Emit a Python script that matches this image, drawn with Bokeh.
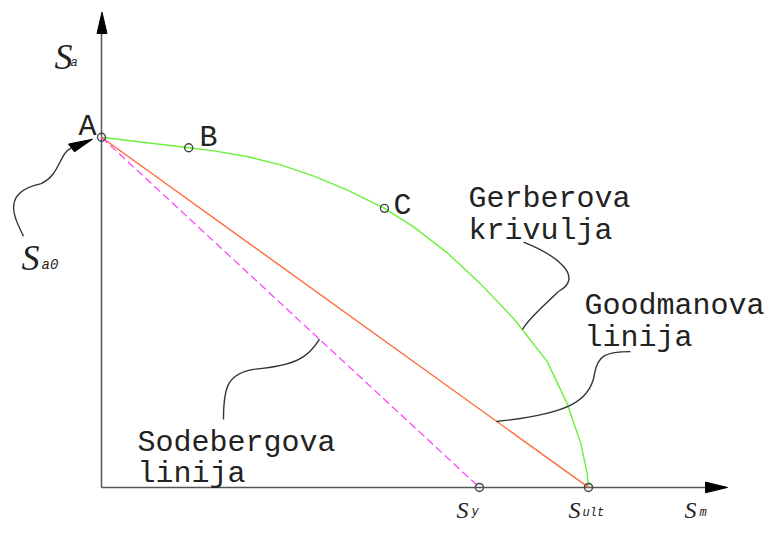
from bokeh.plotting import figure
from bokeh.models import Range1d
from bokeh.core.properties import value
from bokeh.embed import file_html
from bokeh.resources import INLINE

# ---------------- data (normalised: Sm / Sult , Sa / Sa0) ----------------
S_ULT = 1.0
S_Y = 0.776
S_A0 = 1.0
gerber_sm = [0.0, 0.179, 0.231, 0.299, 0.368, 0.436, 0.505, 0.581, 0.641,
             0.710, 0.778, 0.847, 0.915, 0.956, 0.984, 0.997, 1.0]
gerber_sa = [1.0, 0.970, 0.961, 0.945, 0.921, 0.889, 0.849, 0.797, 0.744,
             0.670, 0.582, 0.481, 0.360, 0.240, 0.127, 0.042, 0.0]
point_names = ["A", "B", "C"]
point_sm = [0.0, 0.179, 0.581]
point_sa = [1.0, 0.970, 0.797]
goodman_sm = [0.0, S_ULT]
goodman_sa = [S_A0, 0.0]
soderberg_sm = [0.0, S_Y]
soderberg_sa = [S_A0, 0.0]
axis_points_sm = [S_Y, S_ULT]
axis_points_sa = [0.0, 0.0]

# ---------------- layout: reference-pixel -> data helpers ----------------
W, H = 767, 523
VSCALE = 0.97          # slight vertical squeeze so the bottom labels fit
X0, Y0, KX, KY = 101.0, 502.0, 487.0, 361.0


def dx(px):
    return (px - X0) / KX


def dy(py):
    return (Y0 - py) / KY


p = figure(width=W, height=H, output_backend="svg", toolbar_location=None,
           x_range=Range1d(dx(0), dx(W)), y_range=Range1d(dy(H / VSCALE), dy(0)),
           x_axis_type=None, y_axis_type=None, min_border=0,
           min_border_left=0, min_border_right=0, min_border_top=0, min_border_bottom=0,
           outline_line_color=None, background_fill_color="white",
           border_fill_color="white")
p.grid.visible = False

AX = "#555555"
INK = "#222222"

# coordinate axes with arrow heads
p.line([0, 0], [0, dy(30)], line_color=AX, line_width=1.5)
p.line([0, dx(706)], [0, 0], line_color=AX, line_width=1.6)
p.patches(
    [[dx(101.5), dx(96.5), dx(106.5)], [dx(727), dx(705), dx(705)]],
    [[dy(12), dy(34), dy(34)], [dy(502), dy(496.5), dy(507.5)]],
    fill_color="black", line_color="black", line_width=1)

# limit lines / curve
p.line(gerber_sm, gerber_sa, line_color="#6cf03c", line_width=1.4,
       line_join="round")
p.line(goodman_sm, goodman_sa, line_color="#ff6a3a", line_width=1.4)
p.line(soderberg_sm, soderberg_sa, line_color="#ff44ff", line_width=1.3,
       line_dash="8 4")

# marked points
p.scatter(point_sm + axis_points_sm, point_sa + axis_points_sa, size=8,
          marker="circle", fill_alpha=0, line_color="#444444", line_width=1.4)

# leader curves (bezier, reference pixels)
leaders = [
    # Sa0
    ((23, 243), (14, 224), (0, 198), (40, 189)),
    ((40, 189), (60, 180), (58, 158), (71, 152)),
    # Gerber
    ((523, 249), (555, 262), (585, 285), (558, 300)),
    ((558, 300), (540, 318), (530, 326), (522, 339)),
    # Goodman
    ((630, 362), (605, 362), (597, 366), (594, 385)),
    ((594, 385), (590, 412), (570, 426), (496, 434)),
    # Soderberg
    ((223, 432), (223, 400), (226, 384), (255, 380)),
    ((255, 380), (295, 376), (308, 368), (319, 349)),
]
p.bezier(x0=[dx(a[0][0]) for a in leaders], y0=[dy(a[0][1]) for a in leaders],
         cx0=[dx(a[1][0]) for a in leaders], cy0=[dy(a[1][1]) for a in leaders],
         cx1=[dx(a[2][0]) for a in leaders], cy1=[dy(a[2][1]) for a in leaders],
         x1=[dx(a[3][0]) for a in leaders], y1=[dy(a[3][1]) for a in leaders],
         line_color="#333333", line_width=1.4)
p.patch([dx(68), dx(74), dx(92)], [dy(148), dy(156), dy(143)],
        fill_color="black", line_color="black")

# point labels
mono = value("Liberation Mono")
p.text(x=[dx(78), dx(199), dx(393)], y=[dy(130), dy(142), dy(212)], text=point_names,
       text_font=mono, text_font_size="30px", text_color=INK,
       text_baseline="alphabetic", text_align="left")

# descriptive labels
lab_x = [468, 468, 584, 584, 137, 137]
lab_y = [205, 238, 315, 348, 456, 488]
lab_t = ["Gerberova", "krivulja", "Goodmanova", "linija", "Sodebergova", "linija"]
p.text(x=[dx(v) for v in lab_x], y=[dy(v) for v in lab_y], text=lab_t,
       text_font=mono, text_font_size="30px", text_color=INK,
       text_baseline="alphabetic", text_align="left")

# stress symbols
s_x = [54, 21]
s_y = [58, 265]
p.text(x=[dx(v) for v in s_x], y=[dy(v) for v in s_y], text=["S"] * 2,
       text_font=value("Liberation Serif"), text_font_style="italic",
       text_font_size="36px", text_color=INK,
       text_baseline="alphabetic", text_align="left")
p.text(x=[dx(456), dx(568), dx(684)], y=[dy(525)] * 3, text=["S"] * 3,
       text_font=value("Liberation Serif"), text_font_style="italic",
       text_font_size="24px", text_color=INK,
       text_baseline="alphabetic", text_align="left")
p.text(x=[dx(70)], y=[dy(64)], text=["a"],
       text_font=mono, text_font_style="italic",
       text_font_size="12px", text_color=INK,
       text_baseline="alphabetic", text_align="left")
sub_x = [41, 471, 582, 699]
sub_y = [273, 527, 528, 528]
sub_t = ["a0", "y", "ult", "m"]
sub_size = ["14px", "12px", "12px", "12px"]
p.text(x=[dx(v) for v in sub_x], y=[dy(v) for v in sub_y], text=sub_t,
       text_font=mono, text_font_style="italic",
       text_font_size=sub_size, text_color=INK,
       text_baseline="alphabetic", text_align="left")

open("out.html", "w").write(file_html(p, INLINE))
